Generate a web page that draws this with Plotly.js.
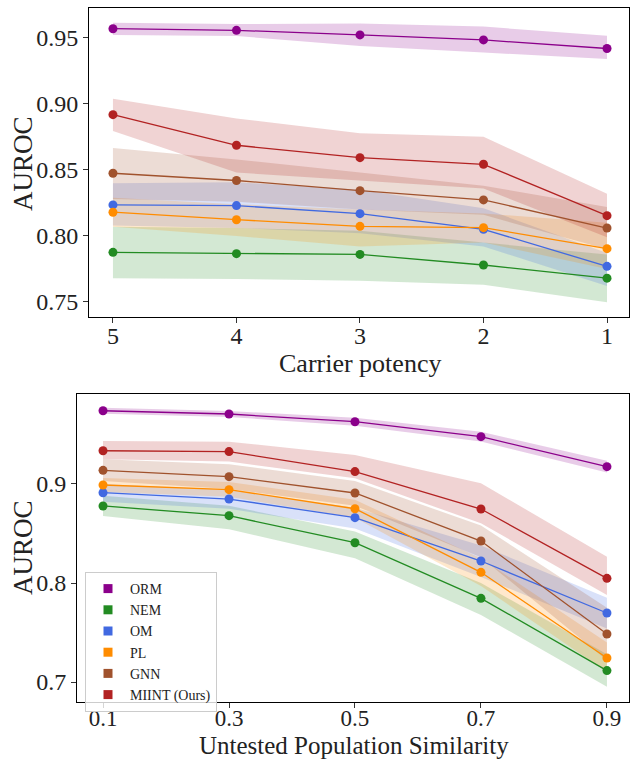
<!DOCTYPE html>
<html><head><meta charset="utf-8">
<script src="https://cdn.plot.ly/plotly-3.0.1.min.js"></script>
<style>html,body{margin:0;padding:0;background:#fff}#chart{width:630px;height:760px}</style>
</head><body><div id="chart"></div>
<script>
// ---- data ----
const methods = ["ORM", "NEM", "OM", "PL", "GNN", "MIINT (Ours)"];
const colors = ["#8B008B", "#228B22", "#4169E1", "#FF8C00", "#A0522D", "#B22222"];

// top: Carrier potency
const potencyX = [5, 4, 3, 2, 1];
const potMean = {
  "ORM":  [0.957, 0.9558, 0.9523, 0.9485, 0.942],
  "NEM":  [0.7876, 0.7866, 0.786, 0.778, 0.768],
  "OM":   [0.8235, 0.823, 0.8169, 0.805, 0.777],
  "PL":   [0.818, 0.8123, 0.8073, 0.8063, 0.7904],
  "GNN":  [0.8475, 0.842, 0.8343, 0.8273, 0.806],
  "MIINT (Ours)": [0.8919, 0.8687, 0.8593, 0.8543, 0.8154]
};
const potHi = {
  "ORM":  [0.9616, 0.9606, 0.961, 0.9586, 0.9517],
  "NEM":  [0.807, 0.806, 0.804, 0.795, 0.786],
  "OM":   [0.840, 0.8407, 0.835, 0.821, 0.787],
  "PL":   [0.829, 0.824, 0.820, 0.817, 0.810],
  "GNN":  [0.8667, 0.858, 0.848, 0.838, 0.822],
  "MIINT (Ours)": [0.904, 0.889, 0.8778, 0.8752, 0.832]
};
const potLo = {
  "ORM":  [0.9523, 0.9515, 0.944, 0.939, 0.934],
  "NEM":  [0.768, 0.7674, 0.766, 0.763, 0.7498],
  "OM":   [0.808, 0.806, 0.802, 0.792, 0.762],
  "PL":   [0.807, 0.800, 0.792, 0.795, 0.775],
  "GNN":  [0.828, 0.826, 0.820, 0.816, 0.790],
  "MIINT (Ours)": [0.8795, 0.848, 0.842, 0.836, 0.799]
};

// bottom: Untested population similarity
const simX = [0.1, 0.3, 0.5, 0.7, 0.9];
const simMean = {
  "ORM":  [0.974, 0.9707, 0.9629, 0.9478, 0.9175],
  "NEM":  [0.8778, 0.868, 0.8407, 0.7845, 0.7115],
  "OM":   [0.8912, 0.8848, 0.866, 0.8222, 0.7697],
  "PL":   [0.899, 0.8943, 0.875, 0.8108, 0.7242],
  "GNN":  [0.9138, 0.9074, 0.8909, 0.8424, 0.7485],
  "MIINT (Ours)": [0.9336, 0.9327, 0.9125, 0.8747, 0.8047]
};
const simHi = {
  "ORM":  [0.977, 0.9737, 0.9669, 0.9528, 0.9235],
  "NEM":  [0.888, 0.878, 0.852, 0.800, 0.728],
  "OM":   [0.900, 0.894, 0.876, 0.838, 0.785],
  "PL":   [0.906, 0.902, 0.884, 0.825, 0.740],
  "GNN":  [0.925, 0.920, 0.903, 0.858, 0.775],
  "MIINT (Ours)": [0.9434, 0.9427, 0.9293, 0.9007, 0.8266]
};
const simLo = {
  "ORM":  [0.971, 0.9677, 0.9589, 0.9428, 0.9115],
  "NEM":  [0.8677, 0.8542, 0.825, 0.7677, 0.6953],
  "OM":   [0.882, 0.875, 0.855, 0.806, 0.754],
  "PL":   [0.892, 0.887, 0.866, 0.797, 0.710],
  "GNN":  [0.903, 0.895, 0.878, 0.826, 0.722],
  "MIINT (Ours)": [0.925, 0.9226, 0.9057, 0.8603, 0.788]
};
const topYTicks = [0.75, 0.80, 0.85, 0.90, 0.95];
const botYTicks = [0.7, 0.8, 0.9];
const titles = {x1: "Carrier potency", x2: "Untested Population Similarity", y: "AUROC"};

// ---- build ----
function rgba(hex, a) {
  const n = parseInt(hex.slice(1), 16);
  return `rgba(${(n>>16)&255},${(n>>8)&255},${n&255},${a})`;
}
const traces = [];
function addPanel(xs, mean, hi, lo, xa, ya) {
  methods.forEach((m, i) => {
    traces.push({
      x: xs.concat(xs.slice().reverse()),
      y: hi[m].concat(lo[m].slice().reverse()),
      xaxis: xa, yaxis: ya, mode: "lines", fill: "toself",
      fillcolor: rgba(colors[i], 0.2), line: {width: 0},
      hoverinfo: "skip", showlegend: false
    });
  });
  methods.forEach((m, i) => {
    traces.push({
      x: xs, y: mean[m], xaxis: xa, yaxis: ya, mode: "lines+markers",
      line: {color: colors[i], width: 1.3},
      marker: {color: colors[i], size: 9},
      showlegend: false, name: m
    });
  });
}
addPanel(potencyX, potMean, potHi, potLo, "x", "y");
addPanel(simX, simMean, simHi, simLo, "x2", "y2");
methods.forEach((m, i) => {
  traces.push({
    x: [null], y: [null], xaxis: "x2", yaxis: "y2", mode: "markers",
    marker: {symbol: "square", size: 9, color: colors[i]},
    name: m, showlegend: true
  });
});

const F = "Liberation Serif, DejaVu Serif, serif";
const axBase = {
  showgrid: false, zeroline: false, showline: true, linecolor: "#000",
  linewidth: 1, mirror: true, ticks: "outside", ticklen: 5, tickwidth: 1,
  tickcolor: "#333", tickfont: {family: F, size: 24, color: "#222"}
};
const tf = {family: F, size: 26, color: "#222"};
const layout = {
  width: 630, height: 760, margin: {l: 0, r: 0, t: 0, b: 0},
  paper_bgcolor: "#fff", plot_bgcolor: "#fff", font: {family: F},
  xaxis: Object.assign({}, axBase, {
    domain: [89/630, 629/630], anchor: "y", range: [5.194, 0.822],
    tickvals: potencyX, ticktext: potencyX.map(String), ticklabelstandoff: -8
  }),
  yaxis: Object.assign({}, axBase, {
    domain: [1 - 317/760, 1 - 8/760], anchor: "x", range: [0.7386, 0.9727],
    tickvals: topYTicks, ticktext: topYTicks.map(v => v.toFixed(2))
  }),
  xaxis2: Object.assign({}, axBase, {
    domain: [77/630, 629/630], anchor: "y2", range: [0.0587, 0.935],
    tickvals: simX, ticktext: simX.map(v => v.toFixed(1)), ticklabelstandoff: -10,
    tickfont: {family: F, size: 23, color: "#222"}
  }),
  yaxis2: Object.assign({}, axBase, {
    domain: [1 - 702/760, 1 - 394/760], anchor: "x2", range: [0.6798, 0.9909],
    tickvals: botYTicks, ticktext: botYTicks.map(v => v.toFixed(1))
  }),
  annotations: [
    {text: titles.x1, xref: "paper", yref: "paper", x: 360/630, y: 1 - 363/760,
     xanchor: "center", yanchor: "middle", showarrow: false, font: tf},
    {text: titles.x2, xref: "paper", yref: "paper", x: 354/630, y: 0,
     xanchor: "center", yanchor: "bottom", showarrow: false, borderpad: 0,
     font: {family: F, size: 25, color: "#222"}},
    {text: titles.y, xref: "paper", yref: "paper", x: 23/630, y: 1 - 164/760,
     xanchor: "center", yanchor: "middle", showarrow: false, textangle: -90,
     font: {family: F, size: 27, color: "#222"}},
    {text: titles.y, xref: "paper", yref: "paper", x: 23/630, y: 1 - 548/760,
     xanchor: "center", yanchor: "middle", showarrow: false, textangle: -90,
     font: {family: F, size: 27, color: "#222"}}
  ],
  showlegend: true,
  legend: {
    x: 85/630, y: 1 - 572/760, xanchor: "left", yanchor: "top",
    bgcolor: "rgba(255,255,255,0.8)", bordercolor: "#cccccc", borderwidth: 1,
    font: {family: F, size: 14, color: "#222"}, itemwidth: 34, tracegroupgap: 0
  }
};
Plotly.newPlot("chart", traces, layout, {displayModeBar: false, staticPlot: true});
</script></body></html>
